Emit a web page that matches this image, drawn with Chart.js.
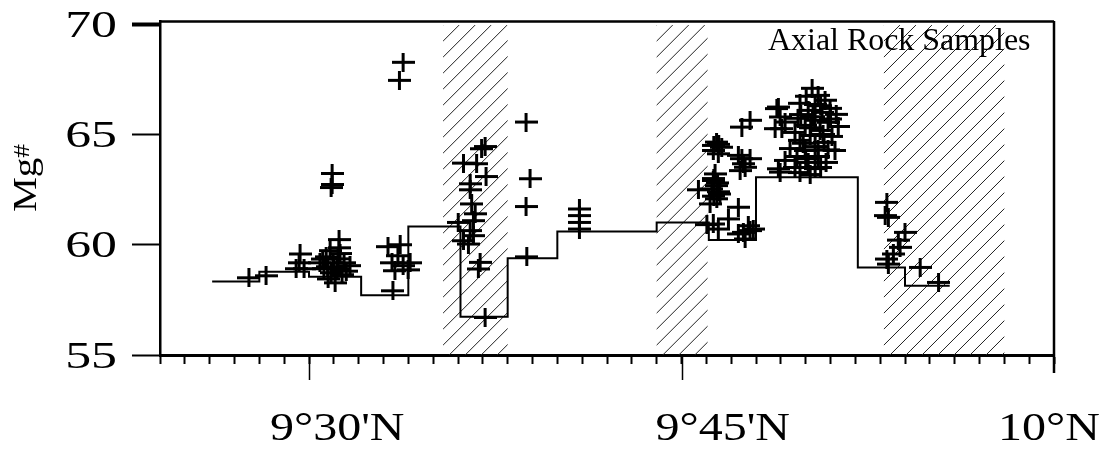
<!DOCTYPE html>
<html>
<head>
<meta charset="utf-8">
<title>Axial Rock Samples - Mg#</title>
<script src="https://cdn.jsdelivr.net/npm/chart.js@4.4.1/dist/chart.umd.min.js"></script>
<style>
  html, body { margin: 0; padding: 0; background: #fff; }
  #wrap { width: 1103px; height: 451px; }
</style>
</head>
<body>
<div id="wrap"><canvas id="mgChart" width="1103" height="451"></canvas></div>
<script>
// Latitude is in minutes north of 9°; Mg# is the magnesium number.

// Segment averages along the axis (value holds until the next break)
const stepLat = [26.1, 28.0, 30.0, 32.1, 34.0, 36.1, 38.0, 40.0, 44.0, 46.1, 48.0, 52.1, 54.0, 55.8];
const stepMg  = [58.33, 58.77, 58.55, 57.71, 60.83, 56.73, 59.38, 60.6, 61.01, 60.21, 63.06, 58.97, 58.14, 58.14];

// Discontinuity zones (hatched)
const gapStart = [35.4, 44.0, 53.15];
const gapEnd   = [38.0, 46.05, 58.0];

// Individual rock samples
const sampleLat = [
  // 9°27'-9°30'
  27.58, 28.27, 29.64, 29.6, 29.48, 29.8,
  // 9°30'-9°32'
  30.44, 30.69, 30.85, 30.97, 31.17, 31.41, 31.65, 30.6, 30.89, 31.13, 31.33, 30.77, 31.05,
  31.21, 31.21, 30.93, 30.93, 30.89, 30.75, 31.0, 31.25, 30.55, 31.5,
  // 9°33'-9°34'
  33.18, 33.67, 33.58, 33.34, 33.79, 34.07, 33.46, 33.99, 33.38, 33.79, 33.64,
  // 9°36'-9°37'
  37.09, 36.95, 36.75, 36.22, 37.13, 36.49, 36.49, 36.55, 36.69, 36.62, 36.01, 36.49,
  36.62, 36.22, 36.42, 36.89, 36.82, 37.09,
  // 9°38'-9°41'
  38.74, 38.9, 38.74, 38.77,
  40.89, 40.89, 40.89, 40.89,
  // 9°45'-9°48'
  45.68, 46.41, 46.62, 46.28, 46.48, 46.3, 46.5, 46.35, 46.28, 46.42, 46.22, 46.55, 46.42,
  46.15, 46.3, 46.45, 46.3, 46.5, 46.28, 46.02, 46.89, 46.48, 47.29, 47.76, 47.49, 47.36,
  47.29, 47.69, 47.49, 47.76, 47.29, 47.56, 47.89, 47.76, 47.43, 47.43, 47.56,
  // 9°48'-9°51'
  48.9, 48.97, 49.17, 49.04, 48.84, 48.77, 48.9, 48.97,
  50.26, 50.5, 50.02, 50.78, 49.77, 50.38, 50.98, 50.1, 50.66, 51.23, 49.69, 50.38, 50.9,
  49.98, 51.31, 50.58, 49.57, 50.18, 51.06, 49.77, 50.74, 50.38, 49.37, 49.98, 51.18,
  49.65, 50.5, 49.17, 50.1, 50.82, 49.57, 50.38, 49.77, 50.18,
  50.3, 50.7, 49.9, 50.5, 50.2, 50.9, 49.8, 50.6, 51.0, 50.0, 50.6,
  // 9°53'-9°56'
  53.27, 53.2, 53.33, 54.0, 53.73, 53.8, 53.53, 53.27, 53.33, 54.61, 55.35
];
const sampleMg = [
  58.5, 58.59, 59.58, 59.18, 58.91, 58.91,
  59.18, 59.45, 59.73, 59.18, 59.36, 59.18, 59.05, 58.91, 58.73, 58.91, 58.64, 58.45, 58.27,
  60.23, 59.86, 63.23, 62.73, 62.59, 59.0, 58.95, 59.6, 59.35, 58.8,
  59.91, 60.0, 59.5, 59.18, 59.05, 59.18, 58.82, 58.86, 57.91, 68.27, 67.45,
  64.45, 64.35, 63.67, 63.7, 63.09, 62.76, 62.49, 61.85, 61.4, 61.09, 61.01, 60.64,
  60.41, 60.18, 60.03, 59.2, 58.9, 56.7,
  65.56, 62.99, 61.73, 59.45,
  61.62, 61.32, 61.01, 60.71,
  62.49, 64.65, 64.42, 64.27, 64.12, 64.5, 64.55, 63.21, 62.91, 62.68, 62.53, 62.3, 62.08,
  61.85, 63.0, 62.8, 62.2, 62.4, 60.94, 60.91, 61.17, 60.71, 64.05, 63.9, 63.67, 63.36,
  61.7, 60.86, 60.56, 60.64, 60.49, 60.26, 60.71, 65.64, 65.33, 63.9, 63.51,
  66.24, 65.79, 65.56, 65.26, 66.17, 65.26, 63.44, 63.29,
  67.09, 66.77, 66.73, 66.55, 66.41, 66.36, 66.18, 66.09, 66.0, 65.91, 65.73, 65.64, 65.55,
  65.41, 65.36, 65.18, 65.09, 64.95, 64.91, 64.73, 64.64, 64.45, 64.36, 64.27, 64.27,
  64.0, 64.0, 63.82, 63.73, 63.73, 63.5, 63.45, 63.27, 63.18,
  65.8, 65.0, 64.6, 64.3, 65.3, 64.3, 65.9, 66.3, 65.7, 63.9, 63.5,
  61.92, 61.32, 61.24, 60.56, 60.21, 59.88, 59.58, 59.35, 59.12, 58.97, 58.29
];

// Axis labels
const yTicks = [55, 60, 65, 70];
const xLabelAt = [30, 45, 60];
const xLabelText = ["9°30'N", "9°45'N", "10°N"];

const SERIF = '"Liberation Serif", "Times New Roman", serif';

// plus sign marker, a little wider than tall
function makeCross(w, h, lw) {
  const c = document.createElement('canvas');
  c.width = w; c.height = h;
  const g = c.getContext('2d');
  g.strokeStyle = '#000';
  g.lineWidth = lw;
  g.beginPath();
  g.moveTo(0, h / 2); g.lineTo(w, h / 2);
  g.moveTo(w / 2, 0); g.lineTo(w / 2, h);
  g.stroke();
  return c;
}
const crossMark = makeCross(23, 19, 3);

// draws the hatched zones behind the data
const hatchZones = {
  id: 'hatchZones',
  beforeDatasetsDraw(chart) {
    const { ctx, chartArea, scales: { x, y } } = chart;
    const top = y.getPixelForValue(70) + 1;
    const bottom = chartArea.bottom;
    const h = bottom - top;
    ctx.save();
    ctx.strokeStyle = '#222';
    ctx.lineWidth = 1;
    gapStart.forEach((s, i) => {
      const x1 = x.getPixelForValue(s);
      const x2 = x.getPixelForValue(gapEnd[i]);
      ctx.save();
      ctx.beginPath();
      ctx.rect(x1, top, x2 - x1, h);
      ctx.clip();
      ctx.beginPath();
      for (let k = x1 - h; k < x2 + 16; k += 16) {
        ctx.moveTo(k, bottom);
        ctx.lineTo(k + h, top);
      }
      ctx.stroke();
      ctx.restore();
    });
    ctx.restore();
  }
};

// frame, long ticks and all the text
const frameAndText = {
  id: 'frameAndText',
  afterDraw(chart) {
    const { ctx, chartArea, scales: { x, y } } = chart;
    ctx.save();
    ctx.strokeStyle = '#000';
    ctx.fillStyle = '#000';

    // top and right edges of the frame
    ctx.lineWidth = 2.5;
    ctx.beginPath();
    ctx.moveTo(chartArea.left, chartArea.top + 0.5);
    ctx.lineTo(chartArea.right, chartArea.top + 0.5);
    ctx.moveTo(chartArea.right, chartArea.top);
    ctx.lineTo(chartArea.right, chartArea.bottom + 18);
    ctx.stroke();

    // long ticks at the labelled latitudes
    ctx.lineWidth = 1.5;
    ctx.beginPath();
    xLabelAt.slice(0, 2).forEach(v => {
      const px = Math.round(x.getPixelForValue(v)) + 0.5;
      ctx.moveTo(px, chartArea.bottom);
      ctx.lineTo(px, chartArea.bottom + 25);
    });
    ctx.stroke();

    // y tick labels
    ctx.font = '37px ' + SERIF;
    ctx.textAlign = 'right';
    ctx.textBaseline = 'alphabetic';
    yTicks.forEach(v => {
      ctx.save();
      ctx.translate(chartArea.left - 43, y.getPixelForValue(v) + 12.5);
      ctx.scale(1.4, 1);
      ctx.fillText(String(v), 0, 0);
      ctx.restore();
    });

    // x labels
    const xShift = [-39, -26, -56];
    ctx.font = '40px ' + SERIF;
    ctx.textAlign = 'left';
    xLabelAt.forEach((v, i) => {
      ctx.save();
      ctx.translate(x.getPixelForValue(v) + xShift[i], chartArea.bottom + 85);
      ctx.scale(1.2, 1);
      ctx.fillText(xLabelText[i], 0, 0);
      ctx.restore();
    });

    // y axis title
    ctx.save();
    ctx.translate(36, 178);
    ctx.rotate(-Math.PI / 2);
    ctx.scale(1.15, 1);
    ctx.font = '34px ' + SERIF;
    const mgW = ctx.measureText('Mg').width;
    ctx.font = '24px ' + SERIF;
    const hashW = ctx.measureText('#').width;
    const start = -(mgW + hashW) / 2;
    ctx.font = '34px ' + SERIF;
    ctx.fillText('Mg', start, 0);
    ctx.font = '24px ' + SERIF;
    ctx.fillText('#', start + mgW, -7);
    ctx.restore();

    // panel caption
    ctx.font = '31px ' + SERIF;
    ctx.save();
    ctx.translate(768, 50);
    ctx.scale(1.03, 1);
    ctx.fillText('Axial Rock Samples', 0, 0);
    ctx.restore();

    ctx.restore();
  }
};

const stepPoints = stepLat.map((v, i) => ({ x: v, y: stepMg[i] }));
const samplePoints = sampleLat.map((v, i) => ({ x: v, y: sampleMg[i] }));

new Chart(document.getElementById('mgChart'), {
  type: 'scatter',
  data: {
    datasets: [
      {
        type: 'line',
        label: 'Segment mean',
        data: stepPoints,
        stepped: 'before',
        borderColor: '#000',
        borderWidth: 2,
        pointRadius: 0,
        fill: false
      },
      {
        label: 'Axial Rock Samples',
        data: samplePoints,
        pointStyle: crossMark,
        pointRadius: 10,
        borderColor: '#000',
        backgroundColor: '#000'
      }
    ]
  },
  options: {
    responsive: false,
    animation: false,
    devicePixelRatio: 1,
    layout: { padding: { left: 132, right: 49, top: 21, bottom: 87 } },
    plugins: {
      legend: { display: false },
      tooltip: { enabled: false }
    },
    scales: {
      x: {
        type: 'linear',
        min: 24,
        max: 60,
        ticks: { stepSize: 1, display: false },
        grid: {
          drawOnChartArea: false,
          drawTicks: true,
          tickLength: 9,
          tickWidth: 2,
          tickColor: '#000'
        },
        border: { display: true, color: '#000', width: 3 }
      },
      y: {
        type: 'linear',
        min: 55,
        max: 70.14,
        ticks: { stepSize: 5, display: false, includeBounds: false },
        grid: {
          drawOnChartArea: false,
          drawTicks: true,
          tickLength: 28,
          tickWidth: ctx => (ctx.tick && ctx.tick.value === 70 ? 4 : 2),
          tickColor: '#000'
        },
        border: { display: true, color: '#000', width: 2.5 }
      }
    }
  },
  plugins: [hatchZones, frameAndText]
});
</script>
</body>
</html>
